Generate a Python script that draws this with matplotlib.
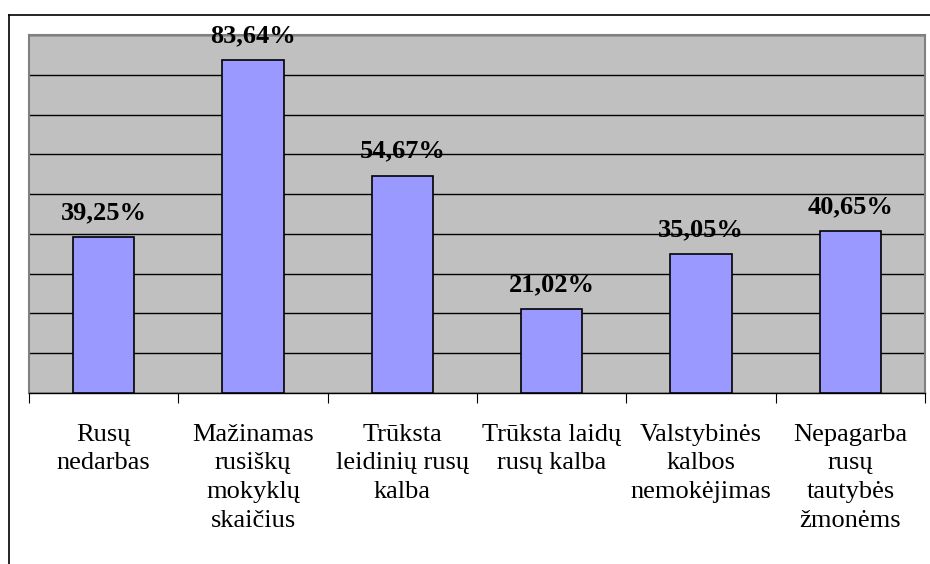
import matplotlib.pyplot as plt
from matplotlib.lines import Line2D
import numpy as np

categories = ['Rusų\nnedarbas', 'Mažinamas\nrusiškų\nmokyklų\nskaičius',
              'Trūksta\nleidinių rusų\nkalba', 'Trūksta laidų\nrusų kalba',
              'Valstybinės\nkalbos\nnemokėjimas', 'Nepagarba\nrusų\ntautybės\nžmonėms']
values = [39.25, 83.64, 54.67, 21.02, 35.05, 40.65]
labels = ['39,25%', '83,64%', '54,67%', '21,02%', '35,05%', '40,65%']

plt.rcParams['font.family'] = ['Liberation Serif', 'DejaVu Serif']

fig = plt.figure(figsize=(9.3, 5.64), dpi=100)
ax = fig.add_axes([29/930, 1-393/564, 896/930, 358/564])

x = np.arange(len(values))
ax.bar(x, values, width=0.41, color='#9999FF', edgecolor='black', linewidth=1.2, zorder=3)
for xi, v, lab in zip(x, values, labels):
    ax.text(xi, v + 3.2, lab, ha='center', va='bottom', fontsize=19, fontweight='bold')

ax.set_facecolor('#C0C0C0')
ax.set_xlim(-0.5, len(values) - 0.5)
ax.set_ylim(0, 90)
ax.set_yticks(np.arange(0, 91, 10))
ax.set_yticklabels([])
ax.tick_params(axis='y', length=0)
ax.yaxis.grid(True, color='black', linewidth=1)
ax.set_axisbelow(True)

ax.set_xticks(np.arange(-0.5, len(values), 1), minor=False)
ax.set_xticklabels([])
ax.tick_params(axis='x', which='major', length=7, direction='out', color='black')
ax.set_xticks(x, minor=True)
ax.set_xticklabels(categories, minor=True, fontsize=19, linespacing=1.4, va='top')
ax.tick_params(axis='x', which='minor', length=0, pad=22)

for s in ['left', 'right', 'top']:
    ax.spines[s].set_color('#808080')
    ax.spines[s].set_linewidth(1.5)
ax.spines['bottom'].set_color('black')
ax.spines['bottom'].set_linewidth(1)

# outer chart frame (only top and left visible)
fig.add_artist(Line2D([9/930, 9/930], [0, 1-15/564], color='black', linewidth=1.2))
fig.add_artist(Line2D([9/930, 1], [1-15/564, 1-15/564], color='black', linewidth=1.2))

plt.savefig('out.png', dpi=100)
